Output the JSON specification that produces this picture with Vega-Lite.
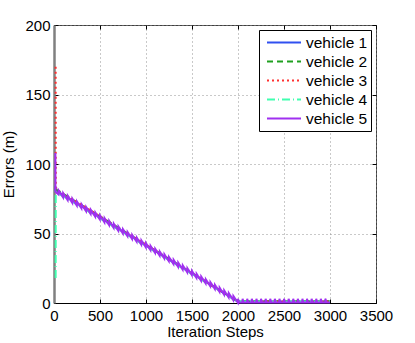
{
  "$schema": "https://vega.github.io/schema/vega-lite/v6.json",
  "width": 322,
  "height": 278,
  "autosize": {"type": "none"},
  "padding": {"left": 54, "top": 25, "right": 39, "bottom": 40},
  "background": "white",
  "config": {
    "font": "Liberation Sans",
    "view": {"stroke": "#404040", "strokeWidth": 1},
    "axis": {
      "labelFont": "Liberation Sans",
      "titleFont": "Liberation Sans",
      "labelFontSize": 15,
      "titleFontSize": 15,
      "titleFontWeight": "normal",
      "labelColor": "black",
      "titleColor": "black",
      "gridDash": [1, 3],
      "gridColor": "#888",
      "gridOpacity": 0.9,
      "tickColor": "black",
      "tickSize": -4,
      "domainColor": "black",
      "format": "d"
    }
  },
  "data": {
    "values": [
      {"vehicle": "vehicle 1", "step": 15, "error": 84},
      {"vehicle": "vehicle 1", "step": 17, "error": 81},
      {"vehicle": "vehicle 1", "step": 2000, "error": 1},
      {"vehicle": "vehicle 1", "step": 3000, "error": 1},
      {"vehicle": "vehicle 2", "step": 15, "error": 82},
      {"vehicle": "vehicle 2", "step": 2000, "error": 1.2},
      {"vehicle": "vehicle 2", "step": 3000, "error": 1.2},
      {"vehicle": "vehicle 3", "step": 18, "error": 170},
      {"vehicle": "vehicle 3", "step": 19, "error": 100},
      {"vehicle": "vehicle 3", "step": 20, "error": 82},
      {"vehicle": "vehicle 3", "step": 2000, "error": 1},
      {"vehicle": "vehicle 3", "step": 3000, "error": 1},
      {"vehicle": "vehicle 4", "step": 18, "error": 18},
      {"vehicle": "vehicle 4", "step": 19, "error": 80},
      {"vehicle": "vehicle 4", "step": 2000, "error": 1},
      {"vehicle": "vehicle 4", "step": 3000, "error": 1},
      {"vehicle": "vehicle 5", "step": 15, "error": 108},
      {"vehicle": "vehicle 5", "step": 16, "error": 80},
      {"vehicle": "vehicle 5", "step": 48, "error": 78.1},
      {"vehicle": "vehicle 5", "step": 50, "error": 81},
      {"vehicle": "vehicle 5", "step": 98, "error": 76.1},
      {"vehicle": "vehicle 5", "step": 100, "error": 79},
      {"vehicle": "vehicle 5", "step": 148, "error": 74.1},
      {"vehicle": "vehicle 5", "step": 150, "error": 77},
      {"vehicle": "vehicle 5", "step": 198, "error": 72.1},
      {"vehicle": "vehicle 5", "step": 200, "error": 75},
      {"vehicle": "vehicle 5", "step": 248, "error": 70.1},
      {"vehicle": "vehicle 5", "step": 250, "error": 73},
      {"vehicle": "vehicle 5", "step": 298, "error": 68.1},
      {"vehicle": "vehicle 5", "step": 300, "error": 71},
      {"vehicle": "vehicle 5", "step": 348, "error": 66.1},
      {"vehicle": "vehicle 5", "step": 350, "error": 69},
      {"vehicle": "vehicle 5", "step": 398, "error": 64.1},
      {"vehicle": "vehicle 5", "step": 400, "error": 67},
      {"vehicle": "vehicle 5", "step": 448, "error": 62.1},
      {"vehicle": "vehicle 5", "step": 450, "error": 65},
      {"vehicle": "vehicle 5", "step": 498, "error": 60.1},
      {"vehicle": "vehicle 5", "step": 500, "error": 63},
      {"vehicle": "vehicle 5", "step": 548, "error": 58.1},
      {"vehicle": "vehicle 5", "step": 550, "error": 61},
      {"vehicle": "vehicle 5", "step": 598, "error": 56.1},
      {"vehicle": "vehicle 5", "step": 600, "error": 59},
      {"vehicle": "vehicle 5", "step": 648, "error": 54.1},
      {"vehicle": "vehicle 5", "step": 650, "error": 57},
      {"vehicle": "vehicle 5", "step": 698, "error": 52.1},
      {"vehicle": "vehicle 5", "step": 700, "error": 55},
      {"vehicle": "vehicle 5", "step": 748, "error": 50.1},
      {"vehicle": "vehicle 5", "step": 750, "error": 53},
      {"vehicle": "vehicle 5", "step": 798, "error": 48.1},
      {"vehicle": "vehicle 5", "step": 800, "error": 51},
      {"vehicle": "vehicle 5", "step": 848, "error": 46.1},
      {"vehicle": "vehicle 5", "step": 850, "error": 49},
      {"vehicle": "vehicle 5", "step": 898, "error": 44.1},
      {"vehicle": "vehicle 5", "step": 900, "error": 47},
      {"vehicle": "vehicle 5", "step": 948, "error": 42.1},
      {"vehicle": "vehicle 5", "step": 950, "error": 45},
      {"vehicle": "vehicle 5", "step": 998, "error": 40.1},
      {"vehicle": "vehicle 5", "step": 1000, "error": 43},
      {"vehicle": "vehicle 5", "step": 1048, "error": 38.1},
      {"vehicle": "vehicle 5", "step": 1050, "error": 41},
      {"vehicle": "vehicle 5", "step": 1098, "error": 36.1},
      {"vehicle": "vehicle 5", "step": 1100, "error": 39},
      {"vehicle": "vehicle 5", "step": 1148, "error": 34.1},
      {"vehicle": "vehicle 5", "step": 1150, "error": 37},
      {"vehicle": "vehicle 5", "step": 1198, "error": 32.1},
      {"vehicle": "vehicle 5", "step": 1200, "error": 35},
      {"vehicle": "vehicle 5", "step": 1248, "error": 30.1},
      {"vehicle": "vehicle 5", "step": 1250, "error": 33},
      {"vehicle": "vehicle 5", "step": 1298, "error": 28.1},
      {"vehicle": "vehicle 5", "step": 1300, "error": 31},
      {"vehicle": "vehicle 5", "step": 1348, "error": 26.1},
      {"vehicle": "vehicle 5", "step": 1350, "error": 29},
      {"vehicle": "vehicle 5", "step": 1398, "error": 24.1},
      {"vehicle": "vehicle 5", "step": 1400, "error": 27},
      {"vehicle": "vehicle 5", "step": 1448, "error": 22.1},
      {"vehicle": "vehicle 5", "step": 1450, "error": 25},
      {"vehicle": "vehicle 5", "step": 1498, "error": 20.1},
      {"vehicle": "vehicle 5", "step": 1500, "error": 23},
      {"vehicle": "vehicle 5", "step": 1548, "error": 18.1},
      {"vehicle": "vehicle 5", "step": 1550, "error": 21},
      {"vehicle": "vehicle 5", "step": 1598, "error": 16.1},
      {"vehicle": "vehicle 5", "step": 1600, "error": 19},
      {"vehicle": "vehicle 5", "step": 1648, "error": 14.1},
      {"vehicle": "vehicle 5", "step": 1650, "error": 17},
      {"vehicle": "vehicle 5", "step": 1698, "error": 12.1},
      {"vehicle": "vehicle 5", "step": 1700, "error": 15},
      {"vehicle": "vehicle 5", "step": 1748, "error": 10.1},
      {"vehicle": "vehicle 5", "step": 1750, "error": 13},
      {"vehicle": "vehicle 5", "step": 1798, "error": 8.1},
      {"vehicle": "vehicle 5", "step": 1800, "error": 11},
      {"vehicle": "vehicle 5", "step": 1848, "error": 6.1},
      {"vehicle": "vehicle 5", "step": 1850, "error": 9},
      {"vehicle": "vehicle 5", "step": 1898, "error": 4.1},
      {"vehicle": "vehicle 5", "step": 1900, "error": 7},
      {"vehicle": "vehicle 5", "step": 1948, "error": 2.1},
      {"vehicle": "vehicle 5", "step": 1950, "error": 5},
      {"vehicle": "vehicle 5", "step": 1998, "error": 0.3},
      {"vehicle": "vehicle 5", "step": 2000, "error": 3},
      {"vehicle": "vehicle 5", "step": 2012, "error": 0.3},
      {"vehicle": "vehicle 5", "step": 2048, "error": 0.3},
      {"vehicle": "vehicle 5", "step": 2050, "error": 3},
      {"vehicle": "vehicle 5", "step": 2062, "error": 0.3},
      {"vehicle": "vehicle 5", "step": 2098, "error": 0.3},
      {"vehicle": "vehicle 5", "step": 2100, "error": 3},
      {"vehicle": "vehicle 5", "step": 2112, "error": 0.3},
      {"vehicle": "vehicle 5", "step": 2148, "error": 0.3},
      {"vehicle": "vehicle 5", "step": 2150, "error": 3},
      {"vehicle": "vehicle 5", "step": 2162, "error": 0.3},
      {"vehicle": "vehicle 5", "step": 2198, "error": 0.3},
      {"vehicle": "vehicle 5", "step": 2200, "error": 3},
      {"vehicle": "vehicle 5", "step": 2212, "error": 0.3},
      {"vehicle": "vehicle 5", "step": 2248, "error": 0.3},
      {"vehicle": "vehicle 5", "step": 2250, "error": 3},
      {"vehicle": "vehicle 5", "step": 2262, "error": 0.3},
      {"vehicle": "vehicle 5", "step": 2298, "error": 0.3},
      {"vehicle": "vehicle 5", "step": 2300, "error": 3},
      {"vehicle": "vehicle 5", "step": 2312, "error": 0.3},
      {"vehicle": "vehicle 5", "step": 2348, "error": 0.3},
      {"vehicle": "vehicle 5", "step": 2350, "error": 3},
      {"vehicle": "vehicle 5", "step": 2362, "error": 0.3},
      {"vehicle": "vehicle 5", "step": 2398, "error": 0.3},
      {"vehicle": "vehicle 5", "step": 2400, "error": 3},
      {"vehicle": "vehicle 5", "step": 2412, "error": 0.3},
      {"vehicle": "vehicle 5", "step": 2448, "error": 0.3},
      {"vehicle": "vehicle 5", "step": 2450, "error": 3},
      {"vehicle": "vehicle 5", "step": 2462, "error": 0.3},
      {"vehicle": "vehicle 5", "step": 2498, "error": 0.3},
      {"vehicle": "vehicle 5", "step": 2500, "error": 3},
      {"vehicle": "vehicle 5", "step": 2512, "error": 0.3},
      {"vehicle": "vehicle 5", "step": 2548, "error": 0.3},
      {"vehicle": "vehicle 5", "step": 2550, "error": 3},
      {"vehicle": "vehicle 5", "step": 2562, "error": 0.3},
      {"vehicle": "vehicle 5", "step": 2598, "error": 0.3},
      {"vehicle": "vehicle 5", "step": 2600, "error": 3},
      {"vehicle": "vehicle 5", "step": 2612, "error": 0.3},
      {"vehicle": "vehicle 5", "step": 2648, "error": 0.3},
      {"vehicle": "vehicle 5", "step": 2650, "error": 3},
      {"vehicle": "vehicle 5", "step": 2662, "error": 0.3},
      {"vehicle": "vehicle 5", "step": 2698, "error": 0.3},
      {"vehicle": "vehicle 5", "step": 2700, "error": 3},
      {"vehicle": "vehicle 5", "step": 2712, "error": 0.3},
      {"vehicle": "vehicle 5", "step": 2748, "error": 0.3},
      {"vehicle": "vehicle 5", "step": 2750, "error": 3},
      {"vehicle": "vehicle 5", "step": 2762, "error": 0.3},
      {"vehicle": "vehicle 5", "step": 2798, "error": 0.3},
      {"vehicle": "vehicle 5", "step": 2800, "error": 3},
      {"vehicle": "vehicle 5", "step": 2812, "error": 0.3},
      {"vehicle": "vehicle 5", "step": 2848, "error": 0.3},
      {"vehicle": "vehicle 5", "step": 2850, "error": 3},
      {"vehicle": "vehicle 5", "step": 2862, "error": 0.3},
      {"vehicle": "vehicle 5", "step": 2898, "error": 0.3},
      {"vehicle": "vehicle 5", "step": 2900, "error": 3},
      {"vehicle": "vehicle 5", "step": 2912, "error": 0.3},
      {"vehicle": "vehicle 5", "step": 2948, "error": 0.3},
      {"vehicle": "vehicle 5", "step": 2950, "error": 3},
      {"vehicle": "vehicle 5", "step": 2962, "error": 0.3},
      {"vehicle": "vehicle 5", "step": 3000, "error": 0.3}
    ]
  },
  "layer": [
    {
      "mark": {"type": "line", "opacity": 0},
      "encoding": {
        "x": {
          "field": "step",
          "type": "quantitative",
          "scale": {"domain": [0, 3500], "nice": false, "zero": false},
          "axis": {"orient": "top", "values": [0, 500, 1000, 1500, 2000, 2500, 3000, 3500], "labels": false, "domain": false, "grid": false, "title": null}
        },
        "y": {
          "field": "error",
          "type": "quantitative",
          "scale": {"domain": [0, 200], "nice": false},
          "axis": {"orient": "right", "values": [0, 50, 100, 150, 200], "labels": false, "domain": false, "grid": false, "title": null}
        }
      }
    },
    {
      "mark": {"type": "line", "clip": false},
      "encoding": {
        "x": {
          "field": "step",
          "type": "quantitative",
          "title": "Iteration Steps",
          "scale": {"domain": [0, 3500], "nice": false, "zero": false},
          "axis": {"orient": "bottom", "grid": true, "values": [0, 500, 1000, 1500, 2000, 2500, 3000, 3500], "labelPadding": 9, "titlePadding": 1, "labelFlush": false}
        },
        "y": {
          "field": "error",
          "type": "quantitative",
          "title": "Errors (m)",
          "scale": {"domain": [0, 200], "nice": false},
          "axis": {"orient": "left", "grid": true, "values": [0, 50, 100, 150, 200], "labelPadding": 8, "titlePadding": 8, "domainColor": "#808080", "domainWidth": 2.5, "labelFlush": false}
        },
        "color": {
          "field": "vehicle",
          "type": "nominal",
          "scale": {"domain": ["vehicle 1", "vehicle 2", "vehicle 3", "vehicle 4", "vehicle 5"], "range": ["#3050f0", "#20a020", "#ff3030", "#40ffb0", "#a030f0"]},
          "legend": {
            "title": null,
            "orient": "none",
            "legendX": 205,
            "legendY": 5,
            "strokeColor": "black",
            "fillColor": "white",
            "padding": 3,
            "symbolOffset": 4,
            "symbolType": "stroke",
            "symbolSize": 1156,
            "symbolStrokeWidth": 2.5,
            "labelFontSize": 15.5,
            "labelFont": "Liberation Sans",
            "labelColor": "black",
            "labelOffset": 4,
            "clipHeight": 19,
            "rowPadding": 0,
            "cornerRadius": 0
          }
        },
        "strokeDash": {
          "field": "vehicle",
          "type": "nominal",
          "scale": {"domain": ["vehicle 1", "vehicle 2", "vehicle 3", "vehicle 4", "vehicle 5"], "range": [[1, 0], [6, 4], [2, 3], [8, 3, 1, 3], [1, 0]]}
        },
        "strokeWidth": {
          "field": "vehicle",
          "type": "nominal",
          "scale": {"domain": ["vehicle 1", "vehicle 2", "vehicle 3", "vehicle 4", "vehicle 5"], "range": [2, 2, 2, 2, 3]},
          "legend": null
        }
      }
    }
  ],
  "resolve": {"axis": {"x": "independent", "y": "independent"}}
}
